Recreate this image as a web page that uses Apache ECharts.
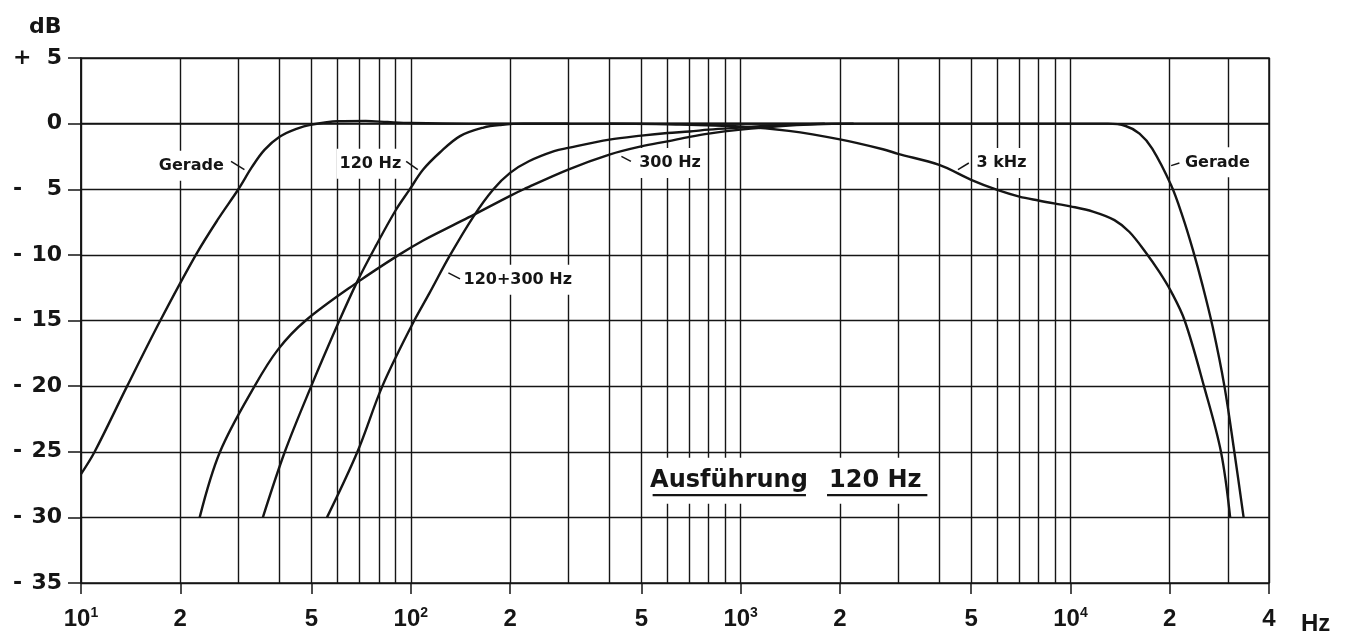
<!DOCTYPE html>
<html>
<head>
<meta charset="utf-8">
<script src="https://cdn.jsdelivr.net/npm/echarts@6/dist/echarts.min.js"></script>
<style>
html,body{margin:0;padding:0;background:#fff;}
#chart{width:1349px;height:637px;}
</style>
</head>
<body>
<div id="chart"></div>
<script>
// ---------- data (Hz, dB) ----------
const geradeFreq = [10, 11, 13.8, 17.4, 22.3, 26, 30, 33, 36, 40, 45, 50, 60, 73, 85, 100, 150, 400, 1000, 5000, 10000, 13000, 14700, 16200, 17700, 20200, 21900, 23500, 25200, 27000, 29300, 31400, 33500];
const geradeDb   = [-26.7, -25, -20, -15, -10, -7.3, -5, -3.3, -2.0, -1.0, -0.4, -0.08, 0.18, 0.2, 0.12, 0.05, 0, 0, 0, 0, 0, 0, -0.18, -0.76, -1.9, -4.7, -7.1, -9.6, -12.4, -15.5, -20, -25, -30];

const hp120Freq = [35.6, 41.5, 49.9, 60.5, 68.9, 78.4, 90, 99, 109, 122.5, 141, 166, 187, 220, 300];
const hp120Db   = [-30, -25, -20, -15.1, -12, -9.3, -6.6, -5.05, -3.5, -2.2, -0.95, -0.3, -0.1, 0, 0];

const hp300Freq = [22.9, 26.4, 33.6, 39.6, 48, 69.7, 92, 109, 134, 155, 200, 220, 300, 400, 500, 600, 700, 800, 1000, 1300, 1700, 2200];
const hp300Db   = [-30, -25, -20, -17.2, -15, -12, -10, -8.9, -7.75, -6.95, -5.5, -5.0, -3.5, -2.36, -1.73, -1.35, -1.01, -0.76, -0.46, -0.2, -0.05, 0];

const hp120p300Freq = [55.7, 68.9, 82, 101, 114, 131, 155, 178, 200, 228, 272, 300, 400, 500, 600, 700, 800, 1000, 1300, 1800];
const hp120p300Db   = [-30, -25, -20, -15.3, -12.9, -10.1, -7.06, -5.0, -3.75, -2.87, -2.1, -1.85, -1.22, -0.91, -0.71, -0.6, -0.46, -0.3, -0.12, 0];

const lp3kFreq = [400, 600, 1000, 1400, 2000, 2700, 3000, 4000, 5000, 6000, 7000, 8000, 9000, 10000, 11700, 13600, 15100, 16900, 18600, 20200, 22200, 25400, 28600, 30500];
const lp3kDb   = [0, -0.05, -0.22, -0.55, -1.2, -1.95, -2.3, -3.15, -4.28, -5.05, -5.56, -5.86, -6.1, -6.3, -6.7, -7.35, -8.26, -9.8, -11.3, -12.8, -15, -20, -25, -30];

// ---------- axes ----------
const xGridValues = [10,20,30,40,50,60,70,80,90,100,200,300,400,500,600,700,800,900,1000,2000,3000,4000,5000,6000,7000,8000,9000,10000,20000,30000,40000];
const xTickValues = [10, 20, 50, 100, 200, 500, 1000, 2000, 5000, 10000, 20000, 40000];
const xTickMain   = ['10', '2', '5', '10', '2', '5', '10', '2', '5', '10', '2', '4'];
const xTickSup    = ['1', '', '', '2', '', '', '3', '', '', '4', '', ''];
const yMin = -35, yMax = 5, yStep = 5;

// ---------- annotations ----------
const annTexts = ['Gerade', '120 Hz', '300 Hz', '120+300 Hz', '3 kHz', 'Gerade'];
const annFreq  = [21.6, 75.4, 611, 211, 6180, 27900];
const annDb    = [-3.2, -3.05, -3.0, -11.9, -3.0, -2.95];
const leaderFreq = [[28.5, 31.3], [96.8, 105], [435, 465], [130, 141], [4560, 4920], [20200, 21400]];
const leaderDb   = [[-2.87, -3.5], [-2.87, -3.5], [-2.49, -2.87], [-11.37, -11.83], [-3.5, -3.0], [-3.2, -3.0]];
const titleWords = ['Ausführung', '120 Hz'];
const titleFreq  = [922, 2560];
const titleDb = -27.2;
const underlineFreq = [[541, 1578], [1828, 3683]];
const underlineDb = -28.3;

const INK = '#151515';
const zip = (f, d) => f.map((v, i) => [v, d[i]]);

function curve(name, f, d) {
  return {
    name, type: 'line', xAxisIndex: 0, yAxisIndex: 0,
    data: zip(f, d), showSymbol: false, symbol: 'none',
    smooth: 0.35, z: 5,
    lineStyle: { color: INK, width: 2.4 }
  };
}
function seg(f, d, w) {
  return {
    type: 'line', xAxisIndex: 0, yAxisIndex: 0, data: zip(f, d),
    showSymbol: false, symbol: 'none', z: 6, silent: true,
    lineStyle: { color: INK, width: w }
  };
}
function textSeries(texts, fs, ds, fontSize, pad) {
  return {
    type: 'scatter', xAxisIndex: 0, yAxisIndex: 0, z: 3, silent: true,
    symbolSize: 1, itemStyle: { color: 'rgba(0,0,0,0)', opacity: 1 },
    data: texts.map((t, i) => ({ value: [fs[i], ds[i]], label: { formatter: t } })),
    label: {
      show: true, position: 'inside', color: INK, opacity: 1, fontFamily: 'DejaVu Sans',
      fontWeight: 'bold', fontSize: fontSize, backgroundColor: '#fff', padding: pad,
      textBorderWidth: 0
    }
  };
}

const series = [
  curve('Gerade', geradeFreq, geradeDb),
  curve('120 Hz', hp120Freq, hp120Db),
  curve('300 Hz', hp300Freq, hp300Db),
  curve('120+300 Hz', hp120p300Freq, hp120p300Db),
  curve('3 kHz', lp3kFreq, lp3kDb),
  textSeries(annTexts, annFreq, annDb, 16, [7, 3]),
  textSeries(titleWords, titleFreq, [titleDb, titleDb], 24, [11, 6])
];
leaderFreq.forEach((f, i) => series.push(seg(f, leaderDb[i], 1.5)));
underlineFreq.forEach(f => series.push(seg(f, [underlineDb, underlineDb], 2.2)));

const XFONT = "'Liberation Sans Narrow','Liberation Sans',sans-serif";
const xRich = {
  b: { fontFamily: XFONT, fontWeight: 'bold', fontSize: 24, color: INK, lineHeight: 26 },
  s: { fontFamily: XFONT, fontWeight: 'bold', fontSize: 14, color: INK, lineHeight: 14, verticalAlign: 'top' }
};

const option = {
  backgroundColor: '#fff',
  animation: false,
  title: [
    { text: 'dB', left: 24, top: 11, textStyle: { fontFamily: 'DejaVu Sans', fontWeight: 'bold', fontSize: 22, color: INK } },
    { text: 'Hz', left: 1296, top: 607, textStyle: { fontFamily: XFONT, fontWeight: 'bold', fontSize: 24, color: INK } }
  ],
  grid: { left: 81, right: 80, top: 58, bottom: 54, show: true, borderColor: INK, borderWidth: 1.5, backgroundColor: 'rgba(0,0,0,0)' },
  xAxis: [
    {
      type: 'log', logBase: 10, min: 10, max: 40000, position: 'bottom',
      axisLine: { show: true, lineStyle: { color: INK, width: 1.5 } },
      axisTick: { show: false, customValues: xGridValues },
      axisLabel: { show: false },
      splitLine: { show: true, lineStyle: { color: INK, width: 1.4 } },
      minorTick: { show: false }, minorSplitLine: { show: false }
    },
    {
      type: 'log', logBase: 10, min: 10, max: 40000, position: 'bottom',
      axisLine: { show: false },
      axisTick: { show: true, customValues: xTickValues, length: 11, lineStyle: { color: INK, width: 1.5 } },
      axisLabel: {
        show: true, customValues: xTickValues, margin: 23, rich: xRich,
        formatter: function (v) {
          let i = -1;
          xTickValues.forEach((t, k) => { if (Math.abs(t - v) / t < 1e-6) i = k; });
          if (i < 0) return '';
          return xTickSup[i] ? '{b|' + xTickMain[i] + '}{s|' + xTickSup[i] + '}' : '{b|' + xTickMain[i] + '}';
        }
      },
      splitLine: { show: false }
    }
  ],
  yAxis: {
    type: 'value', min: yMin, max: yMax, interval: yStep,
    axisLine: { show: true, lineStyle: { color: INK, width: 1.5 } },
    axisTick: { show: true, length: 13, lineStyle: { color: INK, width: 1.5 } },
    splitLine: { show: true, lineStyle: { color: INK, width: 1.4 } },
    axisLabel: {
      margin: 19,
      rich: {
        s: { fontFamily: 'DejaVu Sans', fontWeight: 'bold', fontSize: 22, color: INK, width: 16, align: 'left' },
        n: { fontFamily: 'DejaVu Sans', fontWeight: 'bold', fontSize: 22, color: INK, width: 33, align: 'right' }
      },
      formatter: function (v) {
        if (v > 0) return '{s|+}{n|' + v + '}';
        if (v < 0) return '{s|-}{n|' + (-v) + '}';
        return '{n|0}';
      }
    }
  },
  series: series
};

const chart = echarts.init(document.getElementById('chart'), null, { renderer: 'canvas' });
chart.setOption(option);
</script>
</body>
</html>
